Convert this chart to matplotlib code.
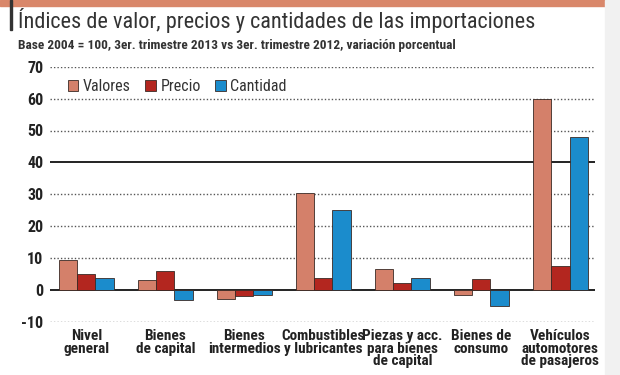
import matplotlib.pyplot as plt
import numpy as np
from matplotlib.patches import Rectangle

categories = ["Nivel\ngeneral", "Bienes\nde capital", "Bienes\nintermedios",
              "Combustibles\ny lubricantes", "Piezas y acc.\npara bienes\nde capital",
              "Bienes de\nconsumo", "Vehículos\nautomotores\nde pasajeros"]
valores = [9.3, 3.1, -2.9, 30.5, 6.5, -1.5, 60.0]
precio = [5.1, 5.9, -1.9, 3.7, 2.1, 3.4, 7.6]
cantidad = [3.7, -3.3, -1.5, 25.0, 3.7, -5.2, 48.0]
yticks = [-10, 0, 10, 20, 30, 40, 50, 60, 70]

C_VAL = "#d4806a"
C_PRE = "#b3261f"
C_CAN = "#1b8ccc"
EDGE = "#3a2a25"

plt.rcParams["font.family"] = ["Roboto Condensed", "DejaVu Sans"]

fig = plt.figure(figsize=(6.2, 3.75), dpi=100)
ax = fig.add_axes([0.081, 0.142, 0.879, 0.680])

x = np.arange(len(categories))
w = 0.23
ax.bar(x - w, valores, w, color=C_VAL, edgecolor=EDGE, linewidth=0.6, label="Valores", zorder=3)
ax.bar(x, precio, w, color=C_PRE, edgecolor=EDGE, linewidth=0.6, label="Precio", zorder=3)
ax.bar(x + w, cantidad, w, color=C_CAN, edgecolor=EDGE, linewidth=0.6, label="Cantidad", zorder=3)

for t in yticks:
    if t in (0, 40):
        ax.axhline(t, color="#222222", linewidth=1.4, zorder=2)
    else:
        ax.axhline(t, color="#555555", linewidth=1.0, linestyle=(0, (1, 1.5)), zorder=1)

ax.set_xlim(-0.456, 6.44)
ax.set_ylim(-10, 70)
ax.set_yticks(yticks)
ax.set_yticklabels([str(t) for t in yticks], fontsize=11.5, fontweight="bold", color="#222222")
ax.set_xticks(x)
ax.set_xticklabels(categories, fontsize=11, fontweight="bold", color="#222222",
                   linespacing=0.9, va="top")
ax.tick_params(length=0, pad=5)
ax.tick_params(axis="x", pad=5)
for s in ax.spines.values():
    s.set_visible(False)

leg = ax.legend(loc="upper left", bbox_to_anchor=(0.015, 0.99), ncol=3, frameon=False,
                fontsize=11.5, handlelength=0.65, handleheight=0.65, handletextpad=0.3,
                columnspacing=0.9, borderaxespad=0.2)
for txt in leg.get_texts():
    txt.set_color("#333333")

# header decorations
fig.patches.append(Rectangle((0.0, 0.985), 0.975, 0.015, transform=fig.transFigure,
                             color="#d9876a", zorder=0))
fig.patches.append(Rectangle((0.975, 0.0), 0.025, 1.0, transform=fig.transFigure,
                             color="#f1f1f1", zorder=0))
fig.patches.append(Rectangle((0.016, 0.92), 0.004, 0.08, transform=fig.transFigure,
                             color="#333333", zorder=1))
fig.text(0.029, 0.945, "Índices de valor, precios y cantidades de las importaciones",
         fontsize=16, color="#333333", va="center")
fig.text(0.029, 0.88, "Base 2004 = 100, 3er. trimestre 2013 vs 3er. trimestre 2012, variación porcentual",
         fontsize=9.6, fontweight="bold", color="#333333", va="center")

fig.savefig("out.png", dpi=100)
